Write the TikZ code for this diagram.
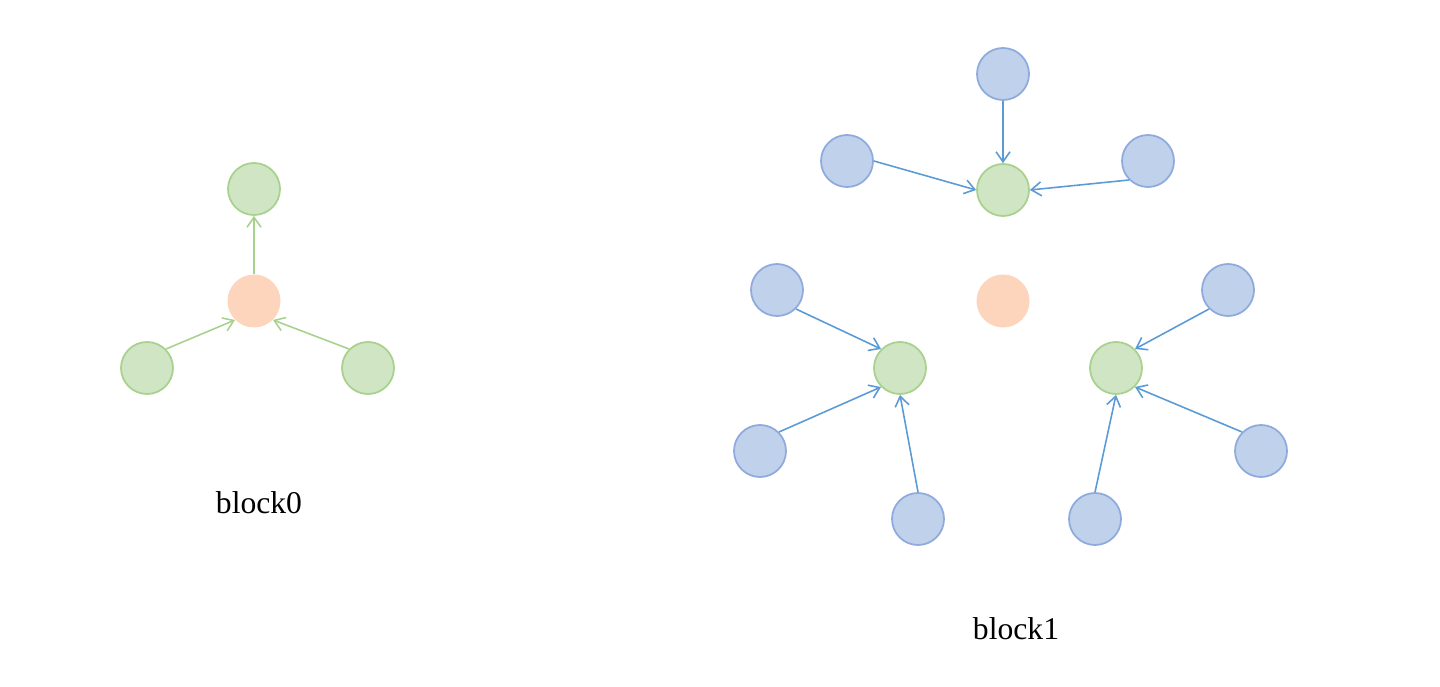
\documentclass[tikz,border=0pt]{standalone}
\usepackage{fontspec}
\setmainfont{Liberation Serif}
\usetikzlibrary{arrows.meta}
\definecolor{greenfill}{HTML}{CFE5C4}
\definecolor{greenline}{HTML}{A9D18E}
\definecolor{bluefill}{HTML}{C0D1EB}
\definecolor{blueline}{HTML}{8FAADC}
\definecolor{bluearrow}{HTML}{5B9BD5}
\definecolor{orangefill}{HTML}{FDD5BC}
\tikzset{
    greennode/.style={circle, fill=greenfill, draw=greenline, line width=1pt, minimum size=10.4mm, inner sep=0pt},
    bluenode/.style={circle, fill=bluefill, draw=blueline, line width=1pt, minimum size=10.4mm, inner sep=0pt},
    centernode/.style={circle, fill=orangefill, minimum size=10.6mm, inner sep=0pt},
    greenedge/.style={draw=greenline, line width=0.9pt, -{Straight Barb[length=2mm, width=2.8mm]}},
    blueedge/.style={draw=bluearrow, line width=0.9pt, -{Straight Barb[length=2mm, width=2.8mm]}},
    blocklabel/.style={font=\fontsize{18}{22}\selectfont}
}
\begin{document}
\begin{tikzpicture}[x=0.2mm, y=-0.2mm]
        \useasboundingbox (0,0) rectangle (1440,687);

        % 1. block0
        \node[centernode] (c0) at (254,301) {};
        \node[greennode] (g0top) at (254,189) {};
        \node[greennode] (g0left) at (147,368) {};
        \node[greennode] (g0right) at (368,368) {};
        \draw[greenedge] (c0.north) -- (g0top.south);
        \draw[greenedge] (g0left.45) -- (c0.225);
        \draw[greenedge] (g0right.135) -- (c0.-45);
        \node[blocklabel] (lab0) at (259,503) {block0};

        % 2. block1, centre and inner ring
        \node[centernode] (c1) at (1003,301) {};
        \node[greennode] (g1top) at (1003,190) {};
        \node[greennode] (g1left) at (900,368) {};
        \node[greennode] (g1right) at (1116,368) {};

        % 3. block1, outer ring
        \node[bluenode] (b1) at (1003,74) {};
        \node[bluenode] (b2) at (847,161) {};
        \node[bluenode] (b3) at (1148,161) {};
        \node[bluenode] (b4) at (777,290) {};
        \node[bluenode] (b5) at (760,451) {};
        \node[bluenode] (b6) at (918,519) {};
        \node[bluenode] (b7) at (1228,290) {};
        \node[bluenode] (b8) at (1261,451) {};
        \node[bluenode] (b9) at (1095,519) {};

        % 4. outer ring -> inner ring
        \foreach \src/\from/\dst/\to in {b1/270/g1top/90, b2/0/g1top/180, b3/225/g1top/0,
                                         b4/-45/g1left/135, b5/45/g1left/225, b6/90/g1left/270,
                                         b7/225/g1right/45, b8/135/g1right/-45, b9/90/g1right/270}
            \draw[blueedge] (\src.\from) -- (\dst.\to);

        \node[blocklabel] (lab1) at (1016,629) {block1};
    \end{tikzpicture}
\end{document}
